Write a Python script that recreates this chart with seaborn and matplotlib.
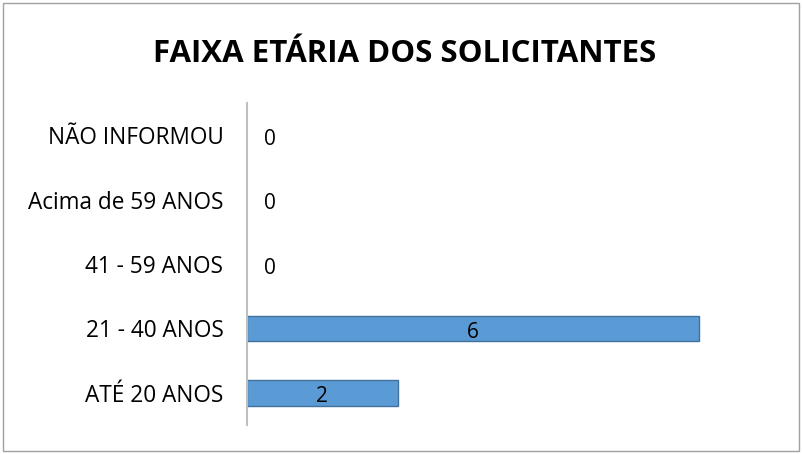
import numpy as np
import pandas as pd
import seaborn as sns
import matplotlib.pyplot as plt
from matplotlib.patches import Rectangle

sns.set_style("white")
plt.rcParams['font.family'] = ['Open Sans', 'DejaVu Sans']
plt.rcParams['text.color'] = 'black'

# data, top to bottom as in the chart
faixas = ["NÃO INFORMOU", "Acima de 59 ANOS", "41 - 59 ANOS", "21 - 40 ANOS", "ATÉ 20 ANOS"]
valores = [0, 0, 0, 6, 2]

df = pd.DataFrame({"faixa": faixas, "qtd": valores})

fig = plt.figure(figsize=(8.02, 4.54), dpi=100)
ax = fig.add_axes([0.308, 0.064, 0.658, 0.709])

sns.barplot(data=df, x="qtd", y="faixa", orient="h", ax=ax, width=0.4,
            color="#5B9BD5", edgecolor="#41719C", linewidth=1, saturation=1)

# zero bars: no outline showing on the axis
for p, v in zip(ax.patches, valores):
    if v == 0:
        p.set_linewidth(0)

ax.set_xlim(0, 7)
ax.set_xlabel("")
ax.set_ylabel("")
ax.set_xticks([])
ax.tick_params(axis="y", length=0, pad=17, labelsize=16.3, labelcolor="black")
for s in ["top", "right", "bottom"]:
    ax.spines[s].set_visible(False)
ax.spines["left"].set_color("#BFBFBF")
ax.spines["left"].set_linewidth(1.5)

cont = ax.containers[0]
lab_c = ax.bar_label(cont, labels=[str(v) if v > 0 else "" for v in valores],
                     label_type="center", fontsize=15, color="black")
lab_e = ax.bar_label(cont, labels=[str(v) if v == 0 else "" for v in valores],
                     label_type="edge", padding=12, fontsize=15, color="black")
# nudge the numbers down a little
for t in lab_c:
    t.xyann = (t.xyann[0], t.xyann[1] - 3)
for t in lab_e:
    t.xyann = (t.xyann[0], t.xyann[1] - 3)

fig.text(0.505, 0.88, "FAIXA ETÁRIA DOS SOLICITANTES", ha="center", va="center",
         fontsize=22.5, fontweight="bold", color="black")

fig.patches.append(Rectangle((3 / 802, 3 / 454), 796 / 802, 448 / 454,
                             transform=fig.transFigure, fill=False,
                             edgecolor="#A0A0A0", linewidth=1))

fig.savefig("out.png", dpi=100)
